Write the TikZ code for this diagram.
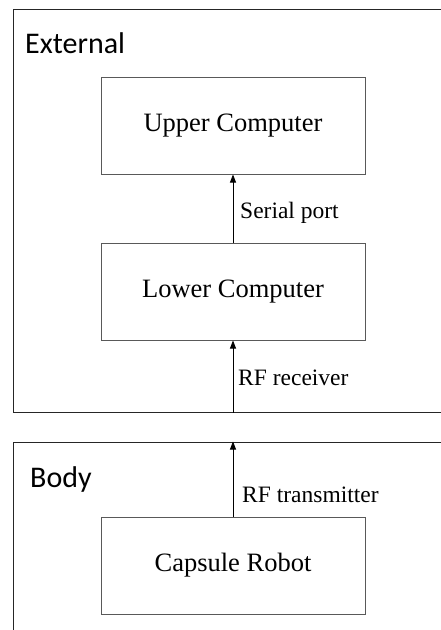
\documentclass[tikz,border=0pt]{standalone}
\usepackage{fontspec}
\setmainfont{Liberation Serif}
\newfontfamily\calib{Carlito}
\usetikzlibrary{arrows.meta}
\begin{document}
\begin{tikzpicture}[x=1pt,y=-1pt,
  frame/.style={draw=black!85, line width=1pt, inner sep=0pt},
  block/.style={draw=black!65, line width=1pt, minimum width=264pt, minimum height=97pt, font=\fontsize{26.5}{30}\selectfont, inner sep=0pt},
  lbl/.style={anchor=base west, font=\fontsize{23.5}{27}\selectfont, inner sep=0pt},
  title/.style={anchor=base west, font=\calib\fontsize{30}{36}\selectfont, inner sep=0pt},
  conn/.style={line width=0.8pt, -{Triangle[length=8pt,width=6pt]}}]
\useasboundingbox (0,0) rectangle (441,630);
\clip (0,0) rectangle (441,630);
\node[frame, minimum width=457pt, minimum height=403pt] (ext) at (241.5,210.5) {};
\node[frame, minimum width=457pt, minimum height=218pt] (body) at (241.5,551) {};
\node[title] (extt) at (25,53) {External};
\node[title] (bodyt) at (30,487) {Body};
\node[block] (upper) at (233,125.5) {Upper Computer};
\node[block] (lower) at (233,291.5) {Lower Computer};
\node[block] (caps) at (233,565.5) {Capsule Robot};
\draw[conn] (lower.north) -- (upper.south);
\draw[conn] (lower.south |- ext.south) -- (lower.south);
\draw[conn] (caps.north) -- (caps.north |- body.north);
\node[lbl] (l1) at (240,218) {Serial port};
\node[lbl] (l2) at (238,385) {RF receiver};
\node[lbl] (l3) at (242,502) {RF transmitter};
\end{tikzpicture}
\end{document}
